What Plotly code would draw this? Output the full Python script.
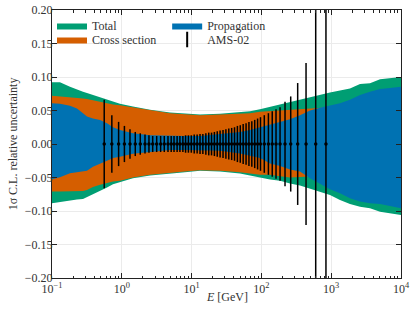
import plotly.graph_objects as go

# ---------------- data ----------------
# energy grid for uncertainty bands [GeV]
band_E = [0.1, 0.130, 0.181, 0.228, 0.278, 0.317, 0.386, 0.488, 0.614, 0.748, 0.94,
          1.445, 2.54, 4.9, 8.0, 13.2, 25.5, 49.3, 68.7, 95.5, 133, 185, 257, 357,
          497, 692, 961, 1337, 1858, 2588, 3597, 5012, 6950, 10000]

total_up = [0.092, 0.092, 0.0855, 0.081, 0.078, 0.076, 0.073, 0.070, 0.066, 0.063, 0.060,
            0.056, 0.051, 0.047, 0.0455, 0.044, 0.045, 0.047, 0.049, 0.052, 0.0557, 0.059,
            0.063, 0.067, 0.0706, 0.074, 0.077, 0.080, 0.083, 0.0896, 0.0905, 0.0965, 0.098, 0.100]
total_lo = [-0.0885, -0.087, -0.0846, -0.083, -0.082, -0.0796, -0.076, -0.070, -0.065, -0.060, -0.057,
            -0.051, -0.047, -0.044, -0.042, -0.040, -0.041, -0.044, -0.046, -0.050, -0.053, -0.055,
            -0.059, -0.062, -0.066, -0.071, -0.076, -0.0836, -0.0896, -0.0935, -0.096, -0.101, -0.103, -0.106]

xsec_up = [0.072, 0.071, 0.0706, 0.069, 0.068, 0.067, 0.065, 0.063, 0.061, 0.059, 0.058,
           0.055, 0.050, 0.046, 0.0445, 0.043, 0.044, 0.045, 0.046, 0.048, 0.049, 0.051,
           0.052, 0.053, 0.054, 0.055, 0.055, 0.055, 0.055, 0.055, 0.055, 0.055, 0.055, 0.055]
xsec_lo = [-0.071, -0.071, -0.071, -0.0705, -0.070, -0.0687, -0.064, -0.061, -0.058, -0.056, -0.055,
           -0.050, -0.046, -0.043, -0.041, -0.039, -0.040, -0.042, -0.044, -0.046, -0.046, -0.048,
           -0.050, -0.050, -0.049, -0.048, -0.047, -0.046, -0.045, -0.045, -0.045, -0.045, -0.045, -0.045]

prop_up = [0.061, 0.060, 0.057, 0.053, 0.046, 0.041, 0.038, 0.036, 0.031, 0.025, 0.021,
           0.016, 0.013, 0.012, 0.012, 0.012, 0.015, 0.018, 0.021, 0.025, 0.029, 0.032,
           0.037, 0.043, 0.050, 0.054, 0.057, 0.061, 0.066, 0.073, 0.078, 0.082, 0.0836, 0.0855]
prop_lo = [-0.0527, -0.0497, -0.0438, -0.042, -0.041, -0.040, -0.034, -0.029, -0.025, -0.021, -0.019,
           -0.0145, -0.0115, -0.009, -0.009, -0.009, -0.010, -0.014, -0.017, -0.021, -0.029, -0.033,
           -0.038, -0.041, -0.051, -0.059, -0.0676, -0.0736, -0.081, -0.086, -0.0885, -0.0896, -0.093, -0.096]

# AMS-02 relative errors
ams_E = [0.56, 0.72, 0.90, 1.09, 1.31, 1.56, 1.84, 2.15, 2.45, 2.77, 3.16, 3.6, 4.06, 4.59,
         5.1, 5.6, 6.2, 6.8, 7.5, 8.2, 9.0, 9.9, 10.9, 12.0, 13.2, 14.5, 16.0, 17.6, 19.3,
         21.2, 23.3, 25.6, 28.2, 31.0, 34.1, 37.5, 41.2, 45.3, 49.8, 54.8, 60.3, 66.3, 72.9,
         80.2, 88.2, 97.0, 110, 126, 143, 162, 185, 218, 263, 331, 436, 600, 841]
ams_val = [0.0] * len(ams_E)
ams_err = [0.066, 0.043, 0.033, 0.027, 0.022, 0.018, 0.016, 0.014, 0.013, 0.012, 0.012, 0.012,
           0.012, 0.012, 0.012, 0.012, 0.012, 0.012, 0.012, 0.013, 0.013, 0.013, 0.014, 0.014,
           0.015, 0.015, 0.016, 0.017, 0.017, 0.018, 0.019, 0.020, 0.021, 0.022, 0.023, 0.024,
           0.025, 0.027, 0.028, 0.030, 0.031, 0.033, 0.034, 0.036, 0.038, 0.040, 0.043, 0.046,
           0.049, 0.052, 0.055, 0.063, 0.071, 0.091, 0.121, 0.35, 0.35]

x_tickvals = [0.1, 1, 10, 100, 1000, 10000]
x_ticktext = ["10<sup>−1</sup>", "10<sup>0</sup>", "10<sup>1</sup>", "10<sup>2</sup>",
              "10<sup>3</sup>", "10<sup>4</sup>"]
y_tickvals = [-0.20, -0.15, -0.10, -0.05, 0.00, 0.05, 0.10, 0.15, 0.20]

# ---------------- styling ----------------
C_TOTAL = "#009E73"
C_XSEC = "#D55E00"
C_PROP = "#0072B2"
FONT = "Liberation Serif"
TXT = "#333333"

fig = go.Figure()


def band(name, up, lo, color, legend):
    fig.add_trace(go.Scatter(
        x=band_E + band_E[::-1], y=up + lo[::-1],
        mode="lines", fill="toself", fillcolor=color,
        line=dict(width=0, color=color), name=name, legend=legend,
        hoverinfo="skip"))


band("Total", total_up, total_lo, C_TOTAL, "legend")
band("Cross section", xsec_up, xsec_lo, C_XSEC, "legend3")
band("Propagation", prop_up, prop_lo, C_PROP, "legend2")

fig.add_trace(go.Scatter(
    x=ams_E, y=ams_val, mode="markers", name="AMS-02", showlegend=False,
    marker=dict(color="black", size=3.5),
    error_y=dict(type="data", array=ams_err, color="black", thickness=1.5, width=0)))
# legend entry for AMS-02 (error-bar glyph)
fig.add_trace(go.Scatter(
    x=[None], y=[None], mode="markers", name="AMS-02", legend="legend4",
    marker=dict(symbol="line-ns-open", size=11, color="black",
                line=dict(width=2, color="black"))))

minor_vals = [m * 10 ** k for k in range(-1, 4) for m in range(2, 10)]

PLOT_H = 312 - 10 - 34


def leg(x, y):
    return dict(x=x, y=y, xanchor="left", yanchor="top",
                bgcolor="rgba(0,0,0,0)", font=dict(family=FONT, size=12, color=TXT),
                tracegroupgap=0)


row1 = 1.0 - 1 / PLOT_H
row2 = 1.0 - 15 / PLOT_H

fig.update_layout(
    width=415, height=312,
    margin=dict(l=52, r=14, t=10, b=34, autoexpand=False),
    paper_bgcolor="white", plot_bgcolor="white",
    font=dict(family=FONT, size=12, color=TXT),
    showlegend=True,
    legend=leg(0.0, row1),
    legend2=leg(0.33, row1),
    legend3=leg(0.0, row2),
    legend4=leg(0.33, row2),
    xaxis=dict(
        type="log", range=[-1, 4], automargin=False,
        tickvals=x_tickvals, ticktext=x_ticktext,
        ticks="inside", ticklen=5, tickcolor="#222",
        showline=True, linecolor="#222", linewidth=1, mirror="allticks",
        showgrid=True, gridcolor="#ebebeb", gridwidth=1,
        minor=dict(tickvals=minor_vals, ticks="inside", ticklen=2.5, tickcolor="#222",
                   showgrid=False),
        tickfont=dict(family=FONT, size=12, color=TXT),
        zeroline=False,
    ),
    yaxis=dict(
        range=[-0.2, 0.2], automargin=False,
        tickvals=y_tickvals, tickformat=".2f",
        ticks="inside", ticklen=5, tickcolor="#222",
        ticklabelstandoff=-4,
        showline=True, linecolor="#222", linewidth=1, mirror="allticks",
        showgrid=True, gridcolor="#ebebeb", gridwidth=1,
        title=dict(text="1σ C.L. relative uncertainty",
                   font=dict(family=FONT, size=12, color=TXT), standoff=4),
        tickfont=dict(family=FONT, size=12, color=TXT),
        zeroline=False,
    ),
    annotations=[dict(text="<i>E</i> [GeV]", xref="paper", yref="paper",
                      x=0.5, y=-19 / PLOT_H, xanchor="center", yanchor="middle",
                      showarrow=False, font=dict(family=FONT, size=12, color=TXT))],
)

fig.write_html("out.html", config={"displayModeBar": False},
               post_script="document.body.style.margin='0px';")
